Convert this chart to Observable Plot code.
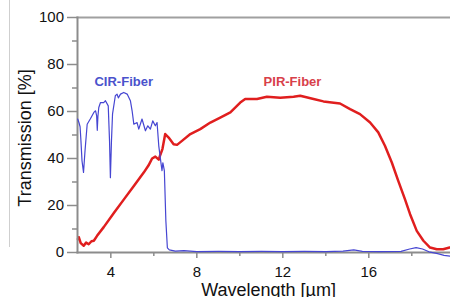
<!DOCTYPE html>
<html>
<head>
<meta charset="utf-8">
<script src="https://cdn.jsdelivr.net/npm/d3@7"></script>
<script src="https://cdn.jsdelivr.net/npm/@observablehq/plot@0.6"></script>
<style>
  html, body { margin: 0; padding: 0; background: #fff; }
  #wrap { position: relative; width: 450px; height: 297px; overflow: hidden; }
  #edge { position: absolute; left: 9px; top: 0; width: 1px; height: 247px; background: #cfcfcf; }
</style>
</head>
<body>
<div id="wrap"><div id="edge"></div></div>
<script>
// ---- data ----
const cirWavelength = [2.46, 2.52, 2.57, 2.61, 2.66, 2.73, 2.80, 2.90, 3.05, 3.21, 3.29, 3.34, 3.37, 3.40, 3.44, 3.52, 3.67, 3.75, 3.88, 3.94, 3.98, 4.03, 4.08, 4.21, 4.29, 4.35, 4.45, 4.60, 4.76, 4.91, 4.99, 5.07, 5.22, 5.30, 5.45, 5.61, 5.72, 5.84, 5.95, 6.07, 6.15, 6.23, 6.30, 6.38, 6.42, 6.49, 6.56, 6.63, 6.72, 7.0, 7.4, 8.0, 9.0, 10.0, 11.0, 12.0, 13.0, 14.0, 14.8, 15.3, 15.7, 16.5, 17.5, 17.9, 18.2, 18.5, 18.8, 19.2, 19.5, 19.8];
const cirTransmission = [56.8, 55.2, 53.5, 47.5, 39.0, 34.1, 43.3, 54.6, 56.9, 59.6, 60.3, 58.2, 52.0, 58.0, 61.7, 63.8, 63.8, 64.6, 62.4, 47.5, 31.8, 47.5, 59.0, 66.7, 67.4, 65.8, 67.4, 68.1, 67.4, 64.6, 60.3, 54.6, 55.3, 52.5, 56.8, 51.8, 53.9, 52.5, 56.0, 53.9, 55.3, 45.4, 40.4, 34.8, 38.2, 34.8, 13.5, 2.0, 1.1, 0.6, 0.8, 0.4, 0.5, 0.4, 0.5, 0.4, 0.5, 0.4, 0.6, 1.1, 0.5, 0.4, 0.5, 1.5, 2.1, 1.5, 0.3, -0.5, -1.2, -1.6];

const pirWavelength = [2.47, 2.51, 2.60, 2.74, 2.85, 2.97, 3.10, 3.21, 3.36, 3.67, 4.14, 4.60, 5.07, 5.53, 5.75, 5.92, 6.07, 6.23, 6.30, 6.40, 6.53, 6.69, 6.92, 7.08, 7.31, 7.70, 8.16, 8.63, 9.09, 9.56, 10.02, 10.25, 10.80, 11.26, 11.88, 12.50, 12.81, 13.43, 13.89, 14.66, 15.13, 15.59, 16.06, 16.44, 16.75, 17.07, 17.37, 17.68, 17.92, 18.23, 18.54, 18.85, 19.16, 19.46, 19.76];
const pirTransmission = [5.7, 6.5, 4.0, 2.9, 4.2, 3.5, 4.8, 5.0, 7.1, 10.8, 16.8, 22.5, 28.3, 34.0, 37.0, 40.0, 40.8, 39.5, 41.5, 44.0, 50.4, 48.9, 46.1, 45.8, 47.5, 50.4, 52.5, 55.3, 57.4, 59.6, 63.8, 65.3, 65.3, 66.3, 65.8, 66.3, 66.7, 65.3, 64.3, 63.4, 61.0, 58.9, 55.3, 51.1, 45.4, 38.3, 30.5, 22.7, 16.3, 9.2, 5.0, 2.1, 1.4, 1.4, 2.1];

const seriesNames = ["CIR-Fiber", "PIR-Fiber"];
const labelWavelength = [4.6, 12.45];
const labelTransmission = [72.8, 72.8];

const xMajorTicks = [4, 8, 12, 16];
const xMinorTicks = [6, 10, 14, 18];
const yMajorTicks = [0, 20, 40, 60, 80, 100];
const yMinorTicks = [10, 30, 50, 70, 90];
const xTitle = "Wavelength [µm]";
const yTitle = "Transmission [%]";

// ---- tables ----
const cir = cirWavelength.map((w, i) => ({w, t: cirTransmission[i]}));
const pir = pirWavelength.map((w, i) => ({w, t: pirTransmission[i]}));
const labels = seriesNames.map((name, i) => ({name, w: labelWavelength[i], t: labelTransmission[i]}));

const axisColor = "#8c8c8c";
const blue = "#4646d2";
const red = "#e01e1e";

const chart = Plot.plot({
  width: 450,
  height: 297,
  marginLeft: 77,
  marginRight: 0,
  marginTop: 17,
  marginBottom: 45,
  x: {domain: [2.45, 19.8]},
  y: {domain: [0, 100]},
  style: {fontFamily: "'Liberation Sans', Arial, sans-serif", fontSize: "15px", background: "transparent", color: "#111"},
  marks: [
    Plot.frame({anchor: "top", stroke: "#a0a0a0", strokeWidth: 2}),
    Plot.axisY(yMinorTicks, {tickSize: 5, tickFormat: () => "", label: null, stroke: axisColor, strokeWidth: 1.5}),
    Plot.axisY(yMajorTicks, {tickSize: 10, tickPadding: 3.5, label: null, stroke: axisColor, fill: "#111", strokeWidth: 1.5, fontSize: 15}),
    Plot.axisX(xMinorTicks, {tickSize: 4, tickFormat: () => "", label: null, stroke: axisColor, strokeWidth: 1.5}),
    Plot.axisX(xMajorTicks, {tickSize: 6, tickPadding: 8, label: null, stroke: axisColor, fill: "#111", strokeWidth: 1.5, fontSize: 15}),
    Plot.lineY(pir, {x: "w", y: "t", stroke: red, strokeWidth: 2.5, curve: "linear"}),
    Plot.frame({anchor: "left", stroke: axisColor, strokeWidth: 2}),
    Plot.frame({anchor: "bottom", stroke: axisColor, strokeWidth: 2}),
    Plot.lineY(cir, {x: "w", y: "t", stroke: blue, strokeWidth: 1.2, curve: "linear"}),
    Plot.text(labels, {x: "w", y: "t", text: "name", fontWeight: "bold", fontSize: 13,
      fill: (d) => d.name === "CIR-Fiber" ? "#4a52cc" : "#d8404a"}),
    Plot.text([yTitle], {frameAnchor: "left", rotate: -90, dx: -52, dy: 3, fontSize: 18, fill: "#111", textAnchor: "middle", lineAnchor: "middle"}),
    Plot.text([xTitle], {frameAnchor: "bottom", dx: 4.5, dy: 38, fontSize: 18, fill: "#111", textAnchor: "middle", lineAnchor: "middle"})
  ]
});
chart.style.position = "absolute";
chart.style.left = "0";
chart.style.top = "0";
document.getElementById("wrap").appendChild(chart);
</script>
</body>
</html>
